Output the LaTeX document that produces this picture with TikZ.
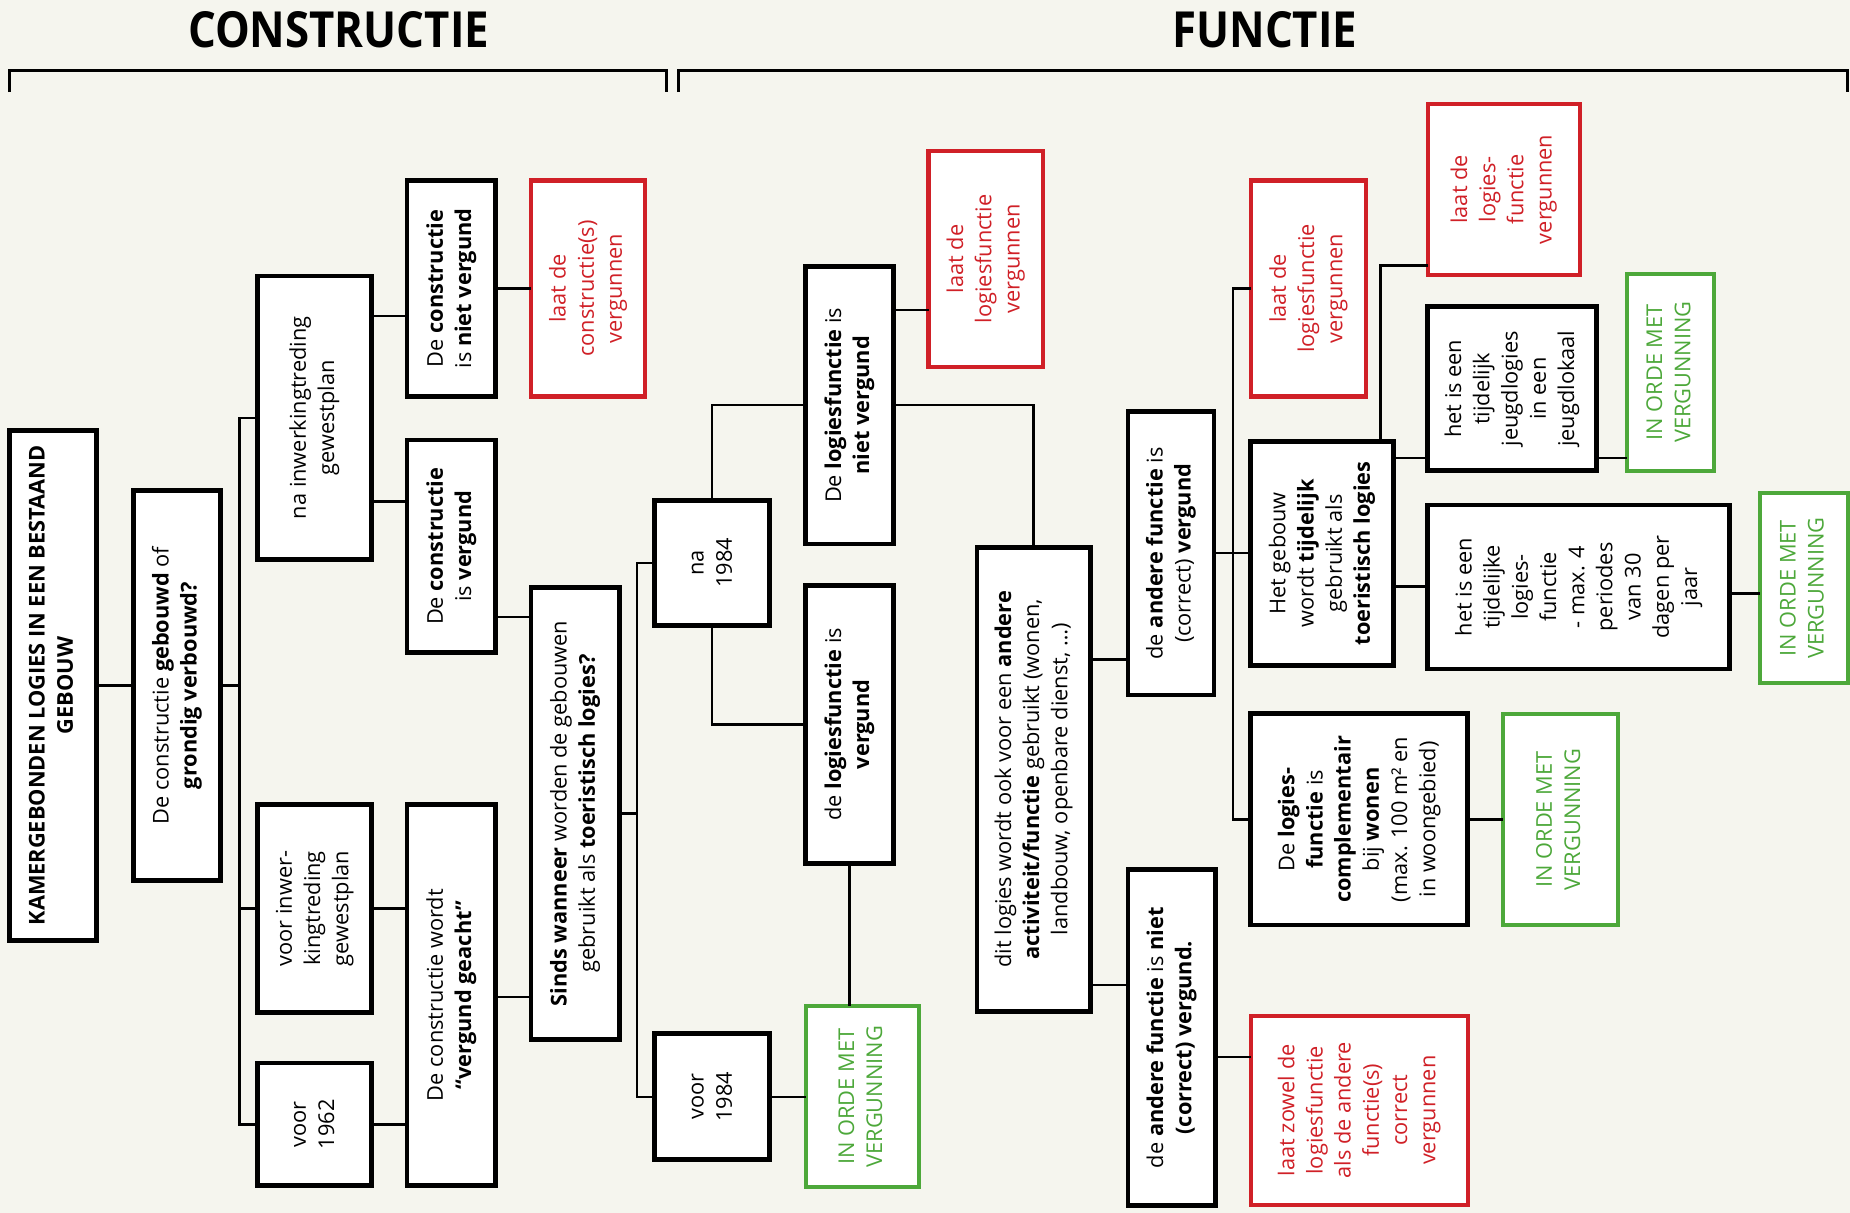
\documentclass[tikz,border=0pt]{standalone}
\usepackage{fontspec}
\setmainfont{Open Sans}
\usepackage{graphicx}
\usepackage{xcolor}
\usepackage{tikz}

\definecolor{paper}{RGB}{245,245,238}
\definecolor{ored}{RGB}{208,32,39}
\definecolor{ogreen}{RGB}{77,168,58}

\newcommand{\rotlines}[1]{\rotatebox{90}{\begin{tabular}{@{}c@{}}#1\end{tabular}}}

\begin{document}
\begin{tikzpicture}[x=0.02cm, y=-0.02cm,
        font=\fontsize{10.5}{13.6}\selectfont,
        stepbox/.style={draw, line width=2.3pt, fill=white, inner sep=0pt, outer sep=0pt},
        permit/.style={stepbox, draw=ored, text=ored, line width=2pt},
        okbox/.style={stepbox, draw=ogreen, text=ogreen, line width=2pt},
        sz/.style 2 args={minimum width=#1*0.02cm, minimum height=#2*0.02cm},
        link/.style={line width=1.1pt},
        head/.style={font=\fontsize{24}{28}\selectfont\bfseries}]
        % background
        \fill[paper] (0,0) rectangle (1568,1028);
        \useasboundingbox (0,0) rectangle (1568,1028);

        % headings
        \node[head] (tcon) at (287,25) {\scalebox{0.88}[1]{CONSTRUCTIE}};
        \node[head] (tfun) at (1072,25) {\scalebox{0.88}[1]{FUNCTIE}};
        \draw[line width=1.4pt] (8,78) -- (8,60) -- (565,60) -- (565,78);
        \draw[line width=1.4pt] (575,78) -- (575,60) -- (1566,60) -- (1566,78);

        % constructie
        \node[stepbox, sz={74}{432}] (root) at (45,581) {\rotlines{\textbf{KAMERGEBONDEN LOGIES IN EEN BESTAAND}\\\textbf{GEBOUW}}};
        \node[stepbox, sz={74}{330}] (build) at (150,581) {\rotlines{De constructie \textbf{gebouwd} of\\\textbf{grondig verbouwd?}}};
        \node[stepbox, sz={97}{240}] (afterplan) at (266.5,354) {\rotlines{na inwerkingtreding\\gewestplan}};
        \node[stepbox, sz={97}{176}] (beforeplan) at (266.5,770) {\rotlines{voor inwer-\\kingtreding\\gewestplan}};
        \node[stepbox, sz={97}{104}] (before62) at (266.5,953) {\rotlines{voor\\1962}};
        \node[stepbox, sz={75}{183}] (notpermitted) at (382.5,244.5) {\rotlines{De \textbf{constructie}\\is \textbf{niet vergund}}};
        \node[permit, sz={97}{183}] (fixbuild) at (498.5,244.5) {\rotlines{laat de\\constructie(s)\\vergunnen}};
        \node[stepbox, sz={75}{180}] (permitted) at (382.5,463) {\rotlines{De \textbf{constructie}\\is \textbf{vergund}}};
        \node[stepbox, sz={75}{323}] (deemed) at (382.5,843.5) {\rotlines{De constructie wordt\\\textbf{“vergund geacht”}}};

        % logiesfunctie
        \node[stepbox, sz={75}{383}] (since) at (487.5,689.5) {\rotlines{\textbf{Sinds wanneer} worden de gebouwen\\gebruikt als \textbf{toeristisch logies?}}};
        \node[stepbox, sz={97}{106}] (after84) at (603.5,477) {\rotlines{na\\1984}};
        \node[stepbox, sz={97}{107}] (before84) at (603.5,929.5) {\rotlines{voor\\1984}};
        \node[stepbox, sz={74}{235}] (lodgenot) at (720,343.5) {\rotlines{De \textbf{logiesfunctie} is\\\textbf{niet vergund}}};
        \node[permit, sz={97}{183}] (fixlodge) at (835.5,219.5) {\rotlines{laat de\\logiesfunctie\\vergunnen}};
        \node[stepbox, sz={74}{236}] (lodgeok) at (720,614) {\rotlines{de \textbf{logiesfunctie} is\\\textbf{vergund}}};
        \node[okbox, sz={96}{153}] (okA) at (731,929.5) {\rotlines{IN ORDE MET\\VERGUNNING}};

        % andere functie
        \node[stepbox, sz={96}{393}] (other) at (876,660.5) {\rotlines{dit logies wordt ook voor een \textbf{andere}\\\textbf{activiteit/functie} gebruikt (wonen,\\landbouw, openbare dienst, \ldots)}};
        \node[stepbox, sz={73}{240}] (otherok) at (992.5,469) {\rotlines{de \textbf{andere functie} is\\(correct) \textbf{vergund}}};
        \node[stepbox, sz={74}{285}] (othernot) at (993,879.5) {\rotlines{de \textbf{andere functie} is \textbf{niet}\\\textbf{(correct) vergund.}}};
        \node[permit, sz={184}{160}] (fixboth) at (1152,941) {\rotlines{laat zowel de\\logiesfunctie\\als de andere\\functie(s)\\correct\\vergunnen}};
        \node[permit, sz={98}{183}] (fixlodgeB) at (1109,244.5) {\rotlines{laat de\\logiesfunctie\\vergunnen}};
        \node[stepbox, sz={121}{190}] (temp) at (1120.5,469) {\rotlines{Het gebouw\\wordt \textbf{tijdelijk}\\gebruikt als\\\textbf{toeristisch logies}}};
        \node[stepbox, sz={184}{179}] (housing) at (1152,694.5) {\rotlines{De \textbf{logies-}\\\textbf{functie} is\\\textbf{complementair}\\bij \textbf{wonen}\\(max. 100 m² en\\in woongebied)}};
        \node[okbox, sz={97}{179}] (okB) at (1322.5,694.5) {\rotlines{IN ORDE MET\\VERGUNNING}};
        \node[permit, sz={129}{145}] (fixlodgeC) at (1274.5,160.5) {\rotlines{laat de\\logies-\\functie\\vergunnen}};
        \node[stepbox, sz={143}{139}] (youth) at (1281.5,329.5) {\rotlines{het is een\\tijdelijk\\jeugdlogies\\in een\\jeugdlokaal}};
        \node[okbox, sz={74}{167}] (okC) at (1416,315.5) {\rotlines{IN ORDE MET\\VERGUNNING}};
        \node[stepbox, sz={256}{139}] (shortstay) at (1338,497.5) {\rotlines{het is een\\tijdelijke\\logies-\\functie\\- max. 4\\periodes\\van 30\\dagen per\\jaar}};
        \node[okbox, sz={74}{161}] (okD) at (1529,498.5) {\rotlines{IN ORDE MET\\VERGUNNING}};

        % connectors constructie
        \draw[link] (root) -- (build);
        \draw[link] (build.east) -- ++(16,0) coordinate (forkA);
        \draw[link] (afterplan.west) -| (forkA) |- (before62.west);
        \draw[link] (forkA) |- (beforeplan.west);
        \draw[link] (afterplan.east |- 0,268) -- (notpermitted.west |- 0,268);
        \draw[link] (afterplan.east |- 0,425) -- (permitted.west |- 0,425);
        \draw[link] (notpermitted) -- (fixbuild);
        \draw[link] (permitted.east |- 0,523) -- (since.west |- 0,523);
        \draw[link] (beforeplan.east) -- (deemed.west |- beforeplan.east);
        \draw[link] (before62.east) -- (deemed.west |- before62.east);
        \draw[link] (deemed.east |- 0,845) -- (since.west |- 0,845);

        % connectors functie
        \draw[link] (since.east) -- ++(15,0) coordinate (forkB);
        \draw[link] (after84.west) -| (forkB) |- (before84.west);
        \draw[link] (after84.north) |- (lodgenot.west);
        \draw[link] (after84.south) |- (lodgeok.west);
        \draw[link] (lodgenot.east |- 0,263) -- (fixlodge.west |- 0,263);
        \draw[link] (lodgenot.east) -| (other.north);
        \draw[link] (lodgeok.south) -- (lodgeok.south |- okA.north);
        \draw[link] (before84) -- (okA);
        \draw[link] (other.east |- 0,559) -- (otherok.west |- 0,559);
        \draw[link] (other.east |- 0,835) -- (othernot.west |- 0,835);
        \draw[link] (othernot.east |- 0,896) -- (fixboth.west |- 0,896);
        \draw[link] (otherok.east) -- ++(16,0) coordinate (forkC);
        \draw[link] (fixlodgeB.west) -| (forkC) |- (housing.west);
        \draw[link] (forkC) -- (temp.west);
        \draw[link] (temp.north -| 1170,0) |- (fixlodgeC.west |- 0,225);
        \draw[link] (temp.east |- 0,388) -- (youth.west |- 0,388);
        \draw[link] (youth.east |- 0,388) -- (okC.west |- 0,388);
        \draw[link] (temp.east |- 0,497) -- (shortstay.west |- 0,497);
        \draw[link] (shortstay.east |- 0,503) -- (okD.west |- 0,503);
        \draw[link] (housing) -- (okB);
\end{tikzpicture}
\end{document}
